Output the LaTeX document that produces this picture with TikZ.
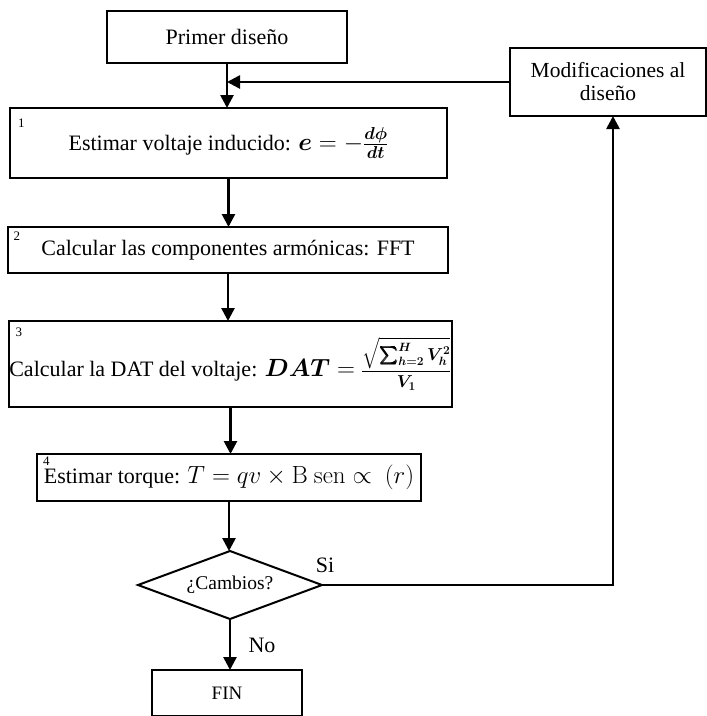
\documentclass[tikz,border=0pt]{standalone}
\usepackage[no-math]{fontspec}
\setmainfont{Liberation Serif}
\usepackage{amsmath,bm}
\usetikzlibrary{shapes.geometric,arrows.meta}
% slightly larger size for the formulas inside the boxes
\newcommand{\fmsize}{\fontsize{24}{28}\selectfont}
\newcommand{\fmdat}{\fontsize{23}{27}\selectfont}
\newcommand{\fmfrac}{\fontsize{16.5}{20}\selectfont}
\begin{document}
\begin{tikzpicture}[x=1pt,y=-1pt,
  box/.style={draw, line width=2pt, inner sep=0pt, outer sep=0pt, align=center,
    font=\fontsize{22}{25}\selectfont},
  dec/.style={diamond, draw, line width=2pt, inner sep=0pt, outer sep=0pt,
    aspect=2.7, minimum width=184pt, minimum height=68pt,
    font=\fontsize{19.5}{23}\selectfont},
  flow/.style={line width=2.6pt, -{Triangle[length=13pt,width=13pt]}},
  num/.style={font=\fontsize{13}{14}\selectfont, inner sep=0pt, anchor=north west},
  lbl/.style={font=\fontsize{22}{26}\selectfont, inner sep=0pt}]
\useasboundingbox (0,0) rectangle (707,716);
\clip (0,0) rectangle (707,716);

% process boxes
\node[box, minimum width=240pt, minimum height=52pt] (pd) at (227,37) {Primer diseño};
\node[box, minimum width=196pt, minimum height=68pt, font=\fontsize{21.5}{23}\selectfont]
  (mod) at (608,82) {Modificaciones al\\diseño};
\node[box, minimum width=437pt, minimum height=70pt] (b1) at (228.5,143)
  {Estimar voltaje inducido: {\fmsize$\bm{e} = -\frac{\bm{d\phi}}{\bm{dt}}$}};
\node[box, minimum width=440pt, minimum height=46pt] (b2) at (228,250)
  {Calcular las componentes armónicas: FFT};
\node[box, minimum width=441pt, minimum height=86pt] (b3) at (230.5,364)
  {Calcular la DAT del voltaje: {\fmdat$\bm{DAT} = {}$}\hspace{-1pt}%
   {\fmfrac$\dfrac{\sqrt{\bm{\sum_{h=2}^{H}V_h^2}}}{\bm{V_1}}$}};
\node[box, minimum width=384pt, minimum height=47pt] (b4) at (229,477.5)
  {Estimar torque: {\fmsize$T = qv\times \mathrm{B}\ \mathrm{sen}\propto\ (r)$}};
\node[dec] (q) at (230,585) {¿Cambios?};
\node[box, minimum width=150pt, minimum height=46pt, font=\fontsize{19}{23}\selectfont]
  (fin) at (227,693) {FIN};

% step numbers
\node[num] (n1) at ([shift={(8,11)}]b1.north west) {1};
\node[num] (n2) at ([shift={(5.5,5)}]b2.north west) {2};
\node[num] (n3) at ([shift={(6,7)}]b3.north west) {3};
\node[num] (n4) at ([shift={(6,3)}]b4.north west) {4};

% connectors
\draw[flow] (pd.south) -- (pd.south |- b1.north);
\draw[flow] (mod.west) -- (mod.west -| pd.south);
\draw[flow] (b1.south) -- (b1.south |- b2.north);
\draw[flow] (b2.south) -- (b2.south |- b3.north);
\draw[flow] (b3.south) -- (b3.south |- b4.north);
\draw[flow] (b4.south) -- (b4.south |- q.north);
\draw[flow] (q.south) -- (q.south |- fin.north);
\draw[flow] (q.east) -| ([xshift=5pt]mod.south);

% branch labels
\node[lbl] (si) at (325,565) {Si};
\node[lbl] (no) at (262,645) {No};
\end{tikzpicture}
\end{document}
